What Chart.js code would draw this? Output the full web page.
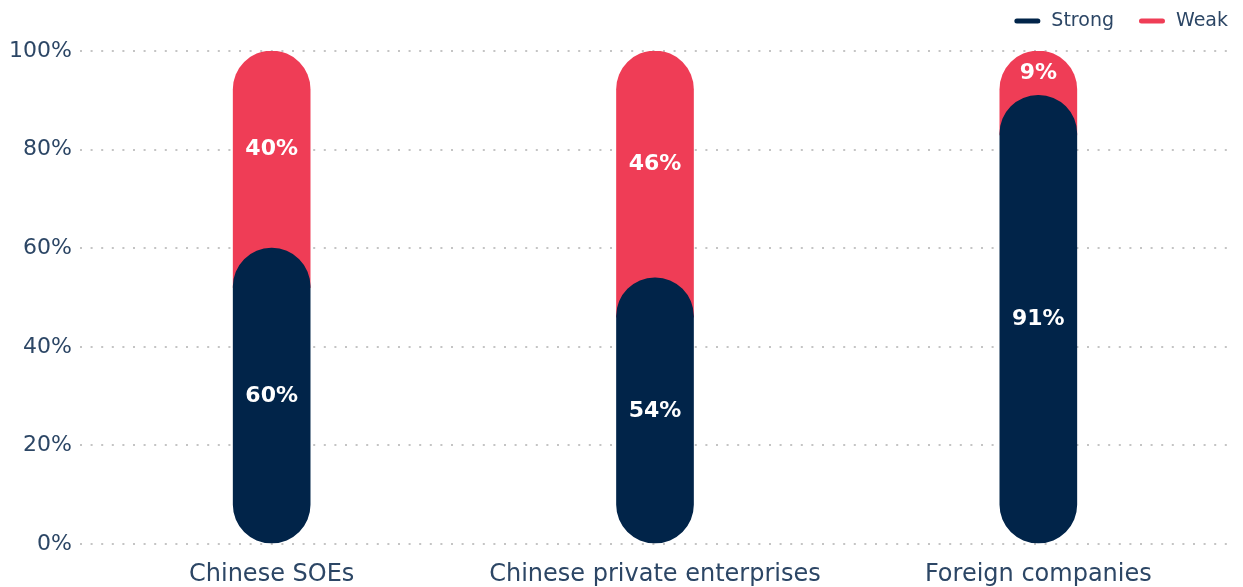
<!DOCTYPE html>
<html>
<head>
<meta charset="utf-8">
<script src="https://cdn.jsdelivr.net/npm/chart.js@4.4.0/dist/chart.umd.min.js"></script>
<style>
  html, body { margin: 0; padding: 0; background: #fff; }
  #wrap { width: 1243px; height: 587px; }
</style>
</head>
<body>
<div id="wrap"><canvas id="myChart" width="1243" height="587"></canvas></div>
<script>
var categories = ["Chinese SOEs", "Chinese private enterprises", "Foreign companies"];
var strong = [60, 54, 91];
var weak = [40, 46, 9];
var yTicks = [0, 20, 40, 60, 80, 100];

var navy = "#012449";
var red = "#ef3d56";
var textColor = "#2c4665";
var fontFamily = "'DejaVu Sans', 'Noto Sans', sans-serif";

// red bar tucks a bit under the navy round top so its corners get filled
var capOverlap = 8;
var weakBars = strong.map(function (s, i) {
    return [Math.max(0, s - capOverlap), s + weak[i]];
});

// white % labels in the middle of each visible segment
var barLabels = {
    id: "barLabels",
    afterDatasetsDraw: function (chart) {
        var ctx = chart.ctx;
        var y = chart.scales.y;
        var metaStrong = chart.getDatasetMeta(0);
        ctx.save();
        ctx.fillStyle = "#fff";
        ctx.font = "bold 22px " + fontFamily;
        ctx.textAlign = "center";
        ctx.textBaseline = "middle";
        metaStrong.data.forEach(function (bar, i) {
            ctx.fillText(strong[i] + "%", bar.x, y.getPixelForValue(strong[i] / 2));
            ctx.fillText(weak[i] + "%", bar.x, y.getPixelForValue(strong[i] + weak[i] / 2));
        });
        ctx.restore();
    }
};

// legend top right: short round line + label, laid out from the right edge
var lineLegend = {
    id: "lineLegend",
    afterDraw: function (chart) {
        var ctx = chart.ctx;
        var items = chart.data.datasets;
        var right = 1228;
        var cy = 21;
        ctx.save();
        ctx.font = "19px " + fontFamily;
        ctx.textBaseline = "middle";
        ctx.textAlign = "left";
        ctx.lineWidth = 5;
        ctx.lineCap = "round";
        var x = right;
        for (var i = items.length - 1; i >= 0; i--) {
            var w = ctx.measureText(items[i].label).width;
            x -= w;
            ctx.fillStyle = textColor;
            ctx.fillText(items[i].label, x, cy);
            x -= 11;
            ctx.strokeStyle = items[i].backgroundColor;
            ctx.beginPath();
            ctx.moveTo(x - 23.5, cy);
            ctx.lineTo(x - 2.5, cy);
            ctx.stroke();
            x -= 26 + 25;
        }
        ctx.restore();
    }
};

var ctx = document.getElementById("myChart").getContext("2d");
var myChart = new Chart(ctx, {
    type: "bar",
    data: {
        labels: categories,
        datasets: [
            {
                label: "Strong",
                data: strong,
                backgroundColor: navy,
                borderRadius: 40,
                borderSkipped: false,
                barThickness: 77,
                grouped: false
            },
            {
                label: "Weak",
                data: weakBars,
                backgroundColor: red,
                borderRadius: 40,
                borderSkipped: "start",
                barThickness: 77,
                grouped: false
            }
        ]
    },
    options: {
        responsive: false,
        animation: false,
        devicePixelRatio: 1,
        layout: { padding: { left: 0, right: 13, top: 51, bottom: 0 } },
        plugins: {
            tooltip: { enabled: false },
            legend: { display: false }
        },
        scales: {
            x: {
                afterFit: function (scale) { scale.height = 43; },
                grid: { display: false, drawTicks: false },
                border: { display: false },
                ticks: {
                    color: textColor,
                    padding: 16,
                    font: { family: fontFamily, size: 24 }
                }
            },
            y: {
                min: 0,
                max: 100,
                afterFit: function (scale) { scale.width = 80; },
                afterBuildTicks: function (scale) {
                    scale.ticks = yTicks.map(function (v) { return { value: v }; });
                },
                grid: {
                    color: "#c4c4c4",
                    lineWidth: 2,
                    drawTicks: false
                },
                border: { display: false, dash: [2, 8.6] },
                ticks: {
                    color: textColor,
                    padding: 8,
                    font: { family: fontFamily, size: 22 },
                    callback: function (v) { return v + "%"; }
                }
            }
        }
    },
    plugins: [barLabels, lineLegend]
});
</script>
</body>
</html>
